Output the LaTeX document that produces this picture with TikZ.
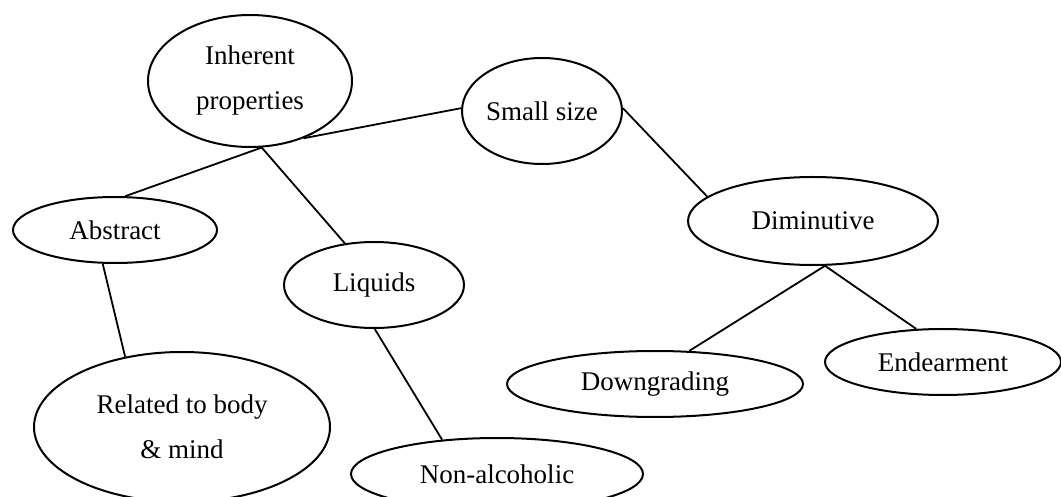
\documentclass[tikz,border=0pt]{standalone}
\usepackage{fontspec}
\setmainfont{Liberation Serif}
\usetikzlibrary{shapes.geometric}
\begin{document}
\begin{tikzpicture}[x=0.5pt,y=-0.5pt,
  concept/.style={ellipse,draw,line width=1pt,inner sep=0pt,align=center,
    font=\fontsize{13.5pt}{22.5pt}\selectfont},
  link/.style={line width=0.9pt}]
\useasboundingbox (0,0) rectangle (1061,497);

% concept ellipses (sizes given as full axes in units, half a point each)
\node[concept,minimum width=204pt*0.5,minimum height=132pt*0.5] at (250,81) (ip) {Inherent\\properties};
\node[concept,minimum width=160pt*0.5,minimum height=106pt*0.5] at (542,111) (ss) {Small size};
\node[concept,minimum width=204pt*0.5,minimum height=66pt*0.5] at (115,230) (ab) {Abstract};
\node[concept,minimum width=180pt*0.5,minimum height=86pt*0.5] at (374,285) (lq) {Liquids};
\node[concept,minimum width=250pt*0.5,minimum height=88pt*0.5] at (813,221) (dm) {Diminutive};
\node[concept,minimum width=296pt*0.5,minimum height=150pt*0.5] at (182,427) (rb) {Related to body\\\& mind};
\node[concept,minimum width=292pt*0.5,minimum height=72pt*0.5] at (497,474) (na) {Non-alcoholic};
\node[concept,minimum width=296pt*0.5,minimum height=66pt*0.5] at (655,384) (dg) {Downgrading};
\node[concept,minimum width=236pt*0.5,minimum height=66pt*0.5] at (943,362) (en) {Endearment};

% connectors
\draw[link] (ss.178) -- (ip.-47);
\draw[link] (ip.-80) -- (ab.73);
\draw[link] (ip.-80) -- (lq.125);
\draw[link] (ab.-110) -- (rb.129);
\draw[link] (lq.-89) -- (na.148);
\draw[link] (ss.2) -- (dm.167);
\draw[link] (dm.-75) -- (dg.44);
\draw[link] (dm.-75) -- (en.129);
\end{tikzpicture}
\end{document}
